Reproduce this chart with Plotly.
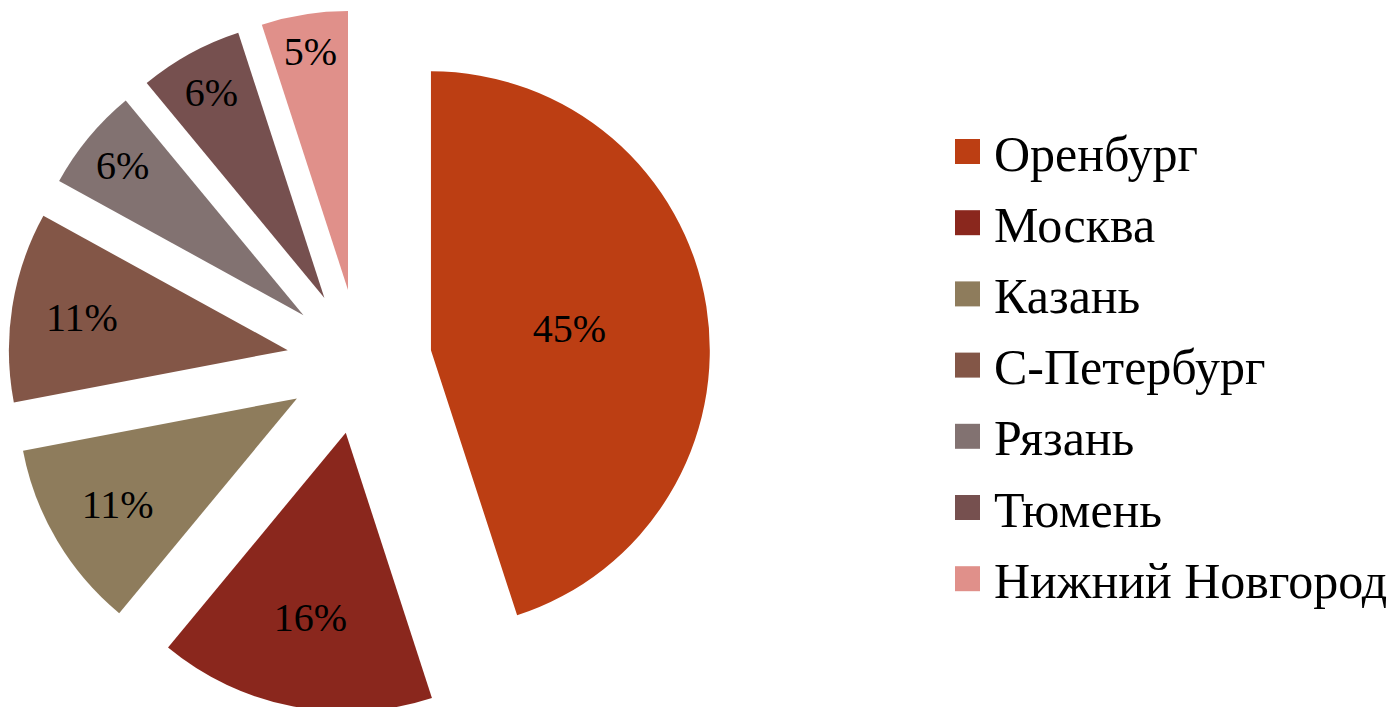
import plotly.graph_objects as go

cities = ["Оренбург", "Москва", "Казань", "С-Петербург", "Рязань", "Тюмень", "Нижний Новгород"]
shares = [45, 16, 11, 11, 6, 6, 5]
colors = ["#BC3E13", "#8A271D", "#8E7C5C", "#835647", "#827271", "#76504F", "#E0908A"]

SERIF = "Liberation Serif, Times New Roman, Tinos, DejaVu Serif, serif"
W, H = 1397, 707

fig = go.Figure(go.Pie(
    labels=cities,
    values=shares,
    sort=False,
    direction="clockwise",
    rotation=0,
    pull=[0.26] * len(cities),
    marker=dict(colors=colors, line=dict(width=0)),
    textinfo="percent",
    texttemplate="%{percent:.0%}",
    textposition="inside",
    insidetextorientation="horizontal",
    textfont=dict(family=SERIF, size=40, color="black"),
    domain=dict(x=[0, 0.503], y=[0, 1]),
    hoverinfo="label+percent",
    showlegend=False,
))

# manual legend (large square swatches like the original)
leg_x0 = 947 / W
sw = 25
top_center = 143.5
step = 71.2
shapes = []
annotations = []
for i, (name, col) in enumerate(zip(cities, colors)):
    yc = top_center + i * step
    shapes.append(dict(
        type="rect", xref="paper", yref="paper",
        x0=leg_x0, x1=leg_x0 + sw / W,
        y0=1 - (yc + sw / 2) / H, y1=1 - (yc - sw / 2) / H,
        fillcolor=col, line=dict(width=0),
    ))
    annotations.append(dict(
        xref="paper", yref="paper",
        x=(leg_x0 * W + 37) / W, y=1 - (yc + 2) / H,
        xanchor="left", yanchor="middle",
        text=name, showarrow=False,
        font=dict(family=SERIF, size=50, color="black"),
    ))

fig.update_layout(
    width=W,
    height=H,
    margin=dict(l=0, r=0, t=0, b=0),
    paper_bgcolor="white",
    plot_bgcolor="white",
    showlegend=False,
    shapes=shapes,
    annotations=annotations,
)

fig.write_html("out.html")
